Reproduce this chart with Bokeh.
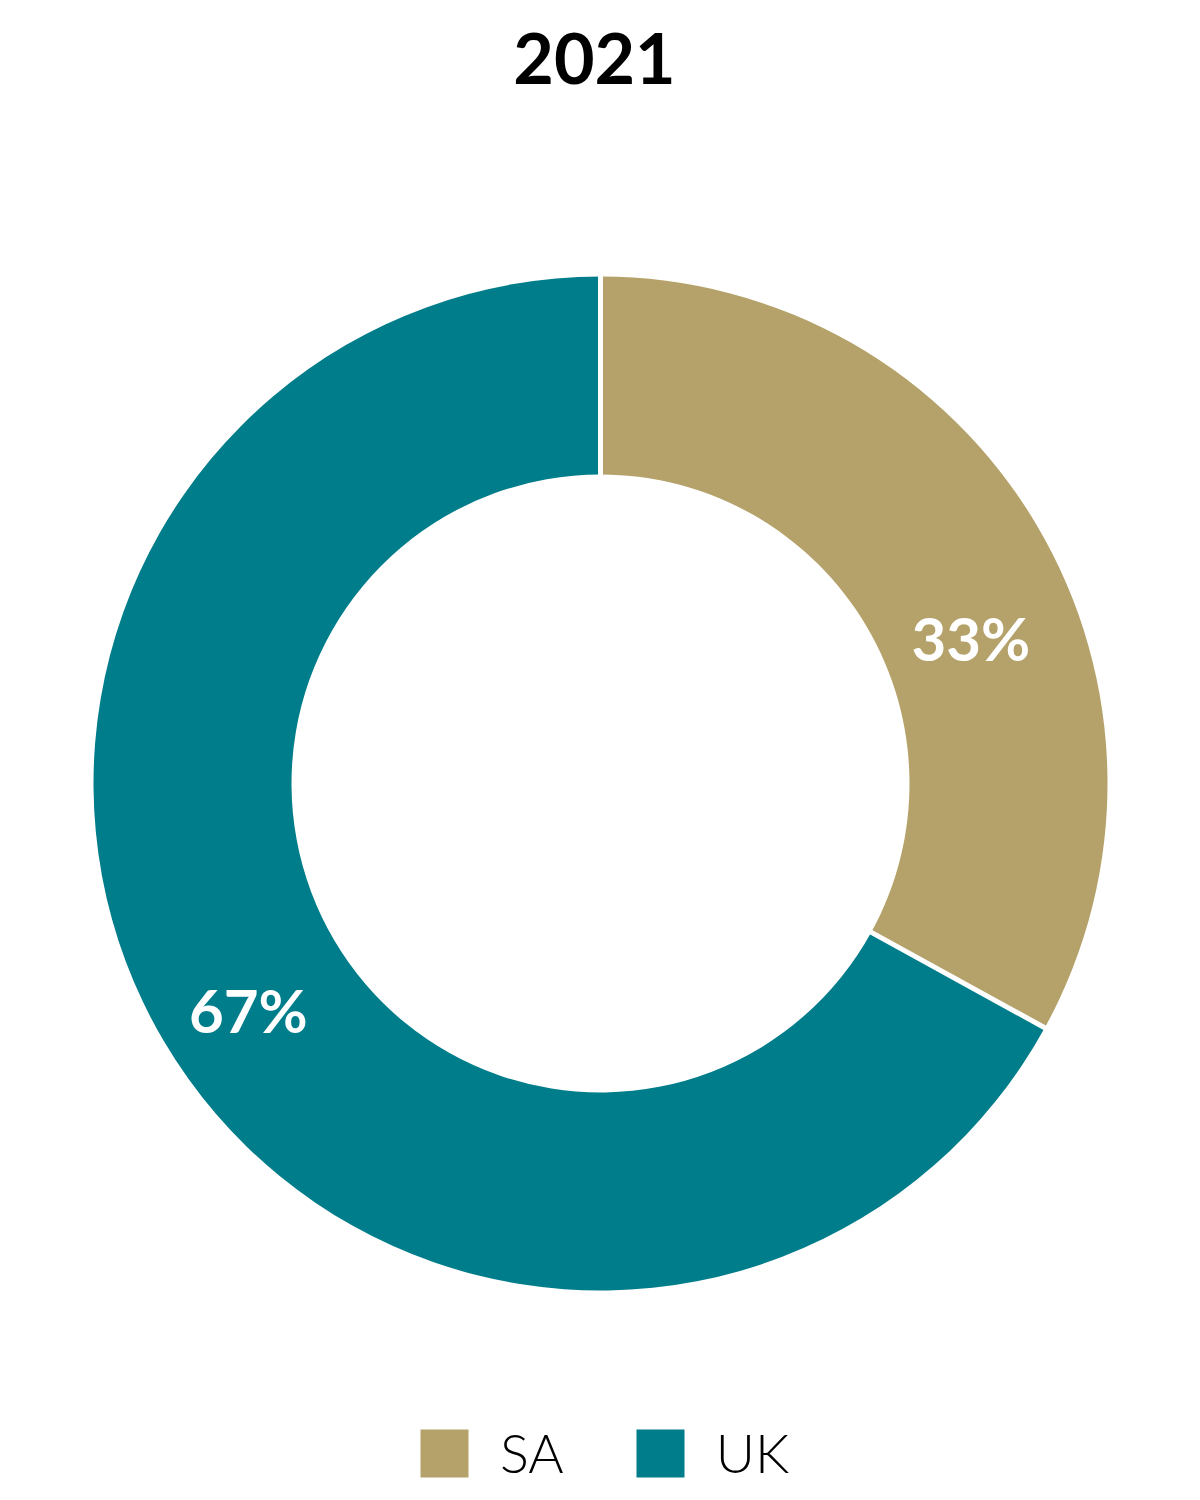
import numpy as np
from bokeh.plotting import figure
from bokeh.models import Range1d, Label, Legend, LegendItem, ColumnDataSource
from bokeh.core.properties import value
from bokeh.embed import file_html
from bokeh.resources import INLINE

# ---- data ----
title_text = "2021"
categories = ["SA", "UK"]
values = [33, 67]
colors = ["#B5A26A", "#007D8A"]

# ---- style / layout ----
W, H = 1192, 1492
CX, CY = 600, 717
R_OUT, R_IN = 507, 309
label_r = [398, 419]
label_nudge_deg = [-9.1, 2.2]

vals = np.array(values, dtype=float)
frac = vals / vals.sum()
cum = np.concatenate([[0], np.cumsum(frac)])
starts = 90 - cum[:-1] * 360
ends = 90 - cum[1:] * 360
mids = (starts + ends) / 2 + np.array(label_nudge_deg)
lr = np.array(label_r, dtype=float)

src = ColumnDataSource(dict(
    cat=categories, start=starts, end=ends, color=colors,
    lx=CX + lr * np.cos(np.radians(mids)),
    ly=CY + lr * np.sin(np.radians(mids)),
    txt=[f"{int(v)}%" for v in values],
))

p = figure(width=W, height=H, output_backend="svg", toolbar_location=None,
           x_range=Range1d(0, W), y_range=Range1d(1500 - H, 1500),
           x_axis_location=None, y_axis_location=None,
           min_border=0, min_border_left=0, min_border_right=0,
           min_border_top=0, min_border_bottom=0)
p.grid.visible = False
p.outline_line_color = None
p.background_fill_color = "white"
p.border_fill_color = "white"

wedges = p.annular_wedge(x=CX, y=CY, inner_radius=R_IN, outer_radius=R_OUT,
                         start_angle="start", end_angle="end",
                         start_angle_units="deg", end_angle_units="deg",
                         direction="clock", fill_color="color", line_color=None,
                         source=src)

# white separators at slice boundaries
b = np.radians(starts)
p.segment(x0=CX + (R_IN - 3) * np.cos(b), y0=CY + (R_IN - 3) * np.sin(b),
          x1=CX + (R_OUT + 3) * np.cos(b), y1=CY + (R_OUT + 3) * np.sin(b),
          line_color="white", line_width=5)

p.text(x="lx", y="ly", text="txt", source=src, text_color="white",
       text_font=value("Lato"), text_font_style="bold", text_font_size="60px",
       text_align="center", text_baseline="middle")

p.add_layout(Label(x=594, y=H - 58, x_units="screen", y_units="screen",
                   text=title_text, text_font="Lato", text_font_style="bold",
                   text_font_size="70px", text_color="black",
                   text_align="center", text_baseline="middle"))

legend = Legend(items=[LegendItem(label=c, renderers=[wedges], index=i)
                       for i, c in enumerate(categories)],
                orientation="horizontal", location=(414, 7),
                glyph_width=60, glyph_height=60, label_height=60,
                label_standoff=26, spacing=66, padding=0, margin=0,
                border_line_color=None, background_fill_alpha=0,
                label_text_font="Lato Light", label_text_font_size="54px",
                label_text_color="black", label_text_baseline="middle")
p.add_layout(legend, "center")

open("out.html", "w").write(file_html(p, INLINE))
